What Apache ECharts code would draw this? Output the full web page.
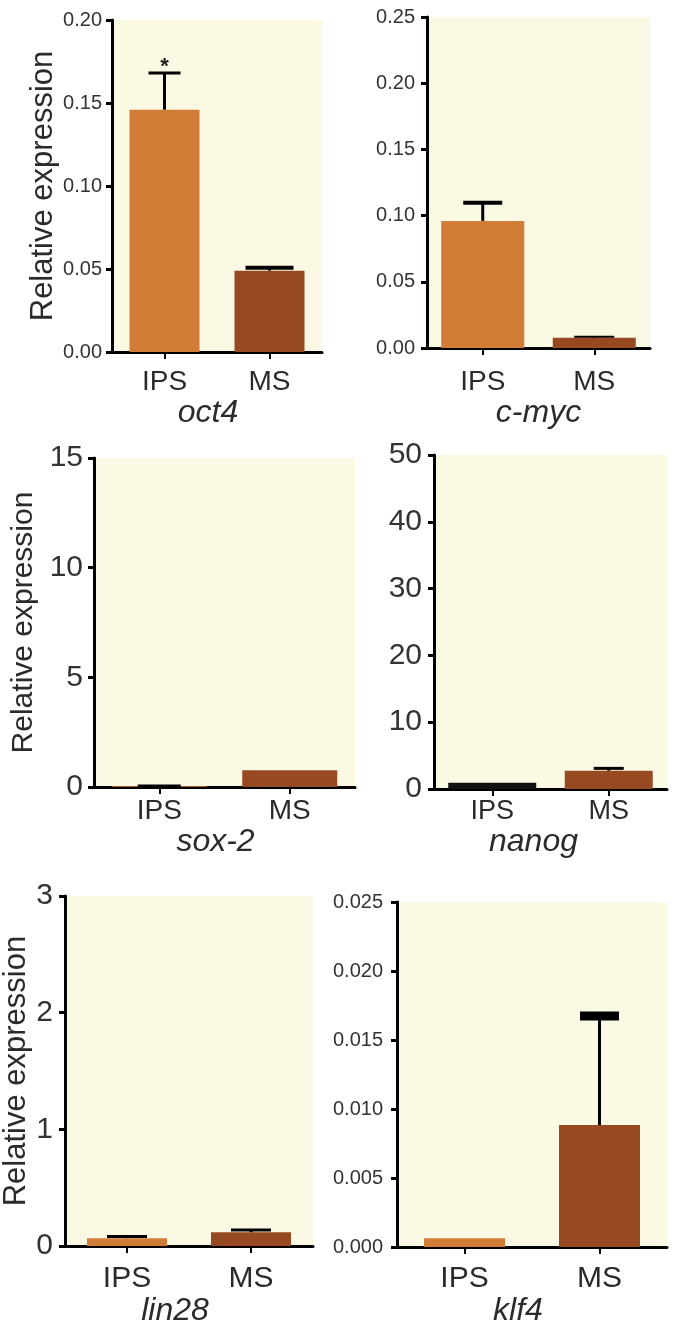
<!DOCTYPE html>
<html>
<head>
<meta charset="utf-8">
<script src="https://cdn.jsdelivr.net/npm/echarts@6/dist/echarts.min.js"></script>
<style>
  html, body { margin: 0; padding: 0; background: #ffffff; }
  #chart { width: 681px; height: 1328px; }
</style>
</head>
<body>
<div id="chart"></div>
<script>
// ---------------- DATA ----------------
const categories = ['IPS', 'MS'];
const genes = ['oct4', 'c-myc', 'sox-2', 'nanog', 'lin28', 'klf4'];

const oct4Mean = [0.146, 0.049];
const oct4Err  = [0.022, 0.0018];
const cmycMean = [0.096, 0.0078];
const cmycErr  = [0.0137, 0.0007];
const sox2Mean = [0.03, 0.76];
const sox2Err  = [0.02, 0];
const nanogMean = [0.95, 2.74];
const nanogErr  = [0, 0.35];
const lin28Mean = [0.068, 0.119];
const lin28Err  = [0.014, 0.02];
const klf4Mean = [0.00065, 0.00884];
const klf4Err  = [0, 0.0079];

const oct4Sig = ['*', ''];

const yMaxes     = [0.20, 0.25, 15, 50, 3, 0.025];
const yIntervals = [0.05, 0.05, 5, 10, 1, 0.005];
const yDecimals  = [2, 2, 0, 0, 0, 3];

const means = [oct4Mean, cmycMean, sox2Mean, nanogMean, lin28Mean, klf4Mean];
const errs  = [oct4Err, cmycErr, sox2Err, nanogErr, lin28Err, klf4Err];
const sigs  = [oct4Sig, null, null, null, null, null];

// ---------------- LAYOUT / STYLE ----------------
const FONT = "'Liberation Sans', Arial, Helvetica, sans-serif";
const ORANGE = '#D17D38';
const BROWN = '#974A22';
const BG = '#FBF9E3';

const panels = [
  { grid: { left: 112, top: 20, width: 210, height: 332 }, tickFont: 20, tickMargin: 10, catFont: 28, catMargin: 16, nameGap: 38, namePadR: 18, yName: true, yNameSize: 31, yNameGap: 42, barWidth: 70, capW: [32, 48], capT: [3, 4] },
  { grid: { left: 427, top: 17, width: 223, height: 331 }, tickFont: 20, tickMargin: 12, catFont: 28, catMargin: 20, nameGap: 44, namePadR: 0, yName: false, barWidth: 83, capW: [39, 40], capT: [4, 2] },
  { grid: { left: 94, top: 458, width: 261, height: 329 }, tickFont: 30, tickMargin: 11, catFont: 28, catMargin: 10, nameGap: 36, namePadR: 18, yName: true, yNameSize: 30, yNameGap: 55, barWidth: 95, capW: [43, 40], capT: [3, 3] },
  { grid: { left: 434, top: 455, width: 233, height: 334 }, tickFont: 30, tickMargin: 12, catFont: 27, catMargin: 9, nameGap: 36, namePadR: 34, yName: false, barWidth: 88, capW: [40, 30], capT: [3, 3], darkFirst: true },
  { grid: { left: 65, top: 896, width: 248, height: 353 }, tickFont: 30, tickMargin: 12, catFont: 30, catMargin: 18, nameGap: 38, namePadR: 28, yName: true, yNameSize: 31, yNameGap: 29, barWidth: 80, capW: [40, 40], capT: [3, 3] },
  { grid: { left: 397, top: 902, width: 270, height: 346 }, tickFont: 20, tickMargin: 14, catFont: 30, catMargin: 17, nameGap: 41, namePadR: 28, yName: false, barWidth: 81, capW: [39, 39], capT: [3, 9] }
];

// ---------------- BUILD OPTION ----------------
const grids = [], xAxes = [], yAxes = [], series = [];

panels.forEach((p, i) => {
  grids.push(Object.assign({ show: true, backgroundColor: BG, borderWidth: 0 }, p.grid));

  xAxes.push({
    type: 'category',
    gridIndex: i,
    data: categories,
    name: genes[i],
    nameLocation: 'middle',
    nameGap: p.nameGap,
    nameTextStyle: { fontFamily: FONT, fontStyle: 'italic', fontSize: 32, color: '#2b2b2b', padding: [0, p.namePadR, 0, 0] },
    axisLine: { show: true, onZero: false, lineStyle: { color: '#000', width: 3 } },
    axisTick: { show: true, alignWithLabel: true, length: 7, lineStyle: { color: '#000', width: 2 } },
    axisLabel: { fontFamily: FONT, fontSize: p.catFont, color: '#2b2b2b', margin: p.catMargin },
    splitLine: { show: false }
  });

  yAxes.push({
    type: 'value',
    gridIndex: i,
    min: 0,
    max: yMaxes[i],
    interval: yIntervals[i],
    name: p.yName ? 'Relative expression' : '',
    nameLocation: 'middle',
    nameGap: p.yNameGap || 40,
    nameTextStyle: { fontFamily: FONT, fontSize: p.yNameSize || 30, color: '#2b2b2b' },
    axisLine: { show: true, lineStyle: { color: '#000', width: 3 } },
    axisTick: { show: true, length: 6, lineStyle: { color: '#000', width: 3 } },
    axisLabel: {
      fontFamily: FONT, fontSize: p.tickFont, color: '#333', margin: p.tickMargin,
      formatter: (v) => Number(v).toFixed(yDecimals[i])
    },
    splitLine: { show: false }
  });

  series.push({
    type: 'bar',
    xAxisIndex: i,
    yAxisIndex: i,
    barWidth: p.barWidth,
    silent: true,
    data: means[i].map((v, k) => ({
      value: v,
      itemStyle: { color: (k === 0 ? (p.darkFirst ? '#111' : ORANGE) : BROWN) }
    }))
  });

  const errData = means[i].map((v, k) => [k, v, errs[i][k], sigs[i] ? sigs[i][k] : '']);
  series.push({
    type: 'custom',
    xAxisIndex: i,
    yAxisIndex: i,
    silent: true,
    z: 5,
    data: errData,
    renderItem: function (params, api) {
      const k = api.value(0);
      const m = api.value(1);
      const e = api.value(2);
      const s = errData[params.dataIndex][3];
      const children = [];
      const base = api.coord([k, m]);
      const top = api.coord([k, m + e]);
      const cw = p.capW[k], ct = p.capT[k];
      if (e > 0) {
        children.push({
          type: 'line',
          shape: { x1: base[0], y1: base[1], x2: top[0], y2: top[1] },
          style: { stroke: '#000', lineWidth: 3 }
        });
        children.push({
          type: 'rect',
          shape: { x: top[0] - cw / 2, y: top[1] - ct / 2, width: cw, height: ct },
          style: { fill: '#000' }
        });
      }
      if (s) {
        children.push({
          type: 'text',
          style: {
            text: s, x: top[0], y: top[1] - ct / 2 + 6,
            align: 'center', verticalAlign: 'bottom',
            font: 'bold 22px ' + FONT, fill: '#222'
          }
        });
      }
      return { type: 'group', children: children };
    }
  });
});

const chart = echarts.init(document.getElementById('chart'), null, { renderer: 'canvas' });
chart.setOption({
  backgroundColor: '#ffffff',
  animation: false,
  grid: grids,
  xAxis: xAxes,
  yAxis: yAxes,
  series: series
});
</script>
</body>
</html>
